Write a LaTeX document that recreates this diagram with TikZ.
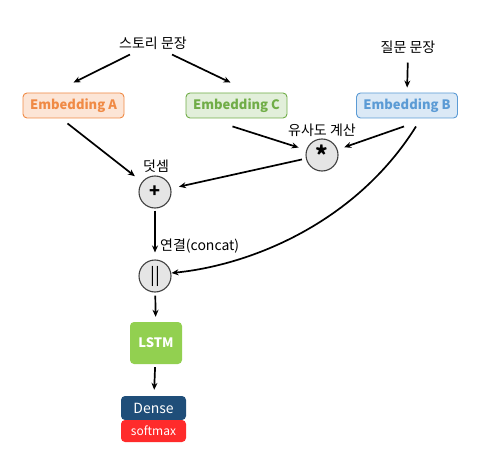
\documentclass[tikz,border=0pt]{standalone}
\usepackage{fontspec}
\setmainfont{Noto Sans CJK KR}
\usetikzlibrary{arrows.meta}
\definecolor{orangeA}{HTML}{F08A45}
\definecolor{greenC}{HTML}{70AD47}
\definecolor{blueB}{HTML}{5B9BD5}
\definecolor{lstmgreen}{HTML}{92D050}
\definecolor{densenavy}{HTML}{1F4E79}
\definecolor{softred}{HTML}{FF2B2B}
\begin{document}
\begin{tikzpicture}[x=1pt, y=-1pt,
  emb/.style={draw, line width=0.9pt, rounded corners=4pt, minimum width=101pt,
    minimum height=25pt, font=\bfseries\fontsize{13}{15}\selectfont},
  op/.style={circle, draw=black!75, fill=black!10, line width=1.1pt,
    minimum size=32pt, inner sep=0pt, font=\fontsize{18}{20}\selectfont},
  lbl/.style={inner sep=1pt, font=\fontsize{14}{16}\selectfont},
  arr/.style={-{Stealth[length=7pt,width=6pt]}, line width=1.7pt},
  blk/.style={text=white, rounded corners=4pt, minimum width=65pt, inner sep=0pt}]
  \useasboundingbox (0,0) rectangle (478,457);
  % inputs
  \node[lbl] (story) at (153,43) {스토리 문장};
  \node[lbl] (question) at (408,47) {질문 문장};
  % embeddings
  \node[emb, draw=orangeA, fill=orangeA!22, text=orangeA] (embA) at (73.5,105.5) {Embedding A};
  \node[emb, draw=greenC, fill=greenC!20, text=greenC] (embC) at (236.5,105.5) {Embedding C};
  \node[emb, draw=blueB, fill=blueB!22, text=blueB] (embB) at (407,105.5) {Embedding B};
  % operations
  \node[op] (mul) at (322,155) {\raisebox{-5pt}{\fontsize{24}{24}\selectfont\textbf{*}}};
  \node[lbl] (mullbl) at (322,130) {유사도 계산};
  \node[op] (add) at (155,192) {\textbf{+}};
  \node[lbl] (addlbl) at (156,166) {덧셈};
  \node[op] (cat) at (155,276) {||};
  \node[lbl, anchor=west] (catlbl) at (159,246) {연결(concat)};
  % output layers
  \node[blk, fill=lstmgreen, minimum width=52pt, minimum height=42pt,
    font=\bfseries\fontsize{13}{15}\selectfont] (lstm) at (156,343) {LSTM};
  \node[blk, fill=densenavy, minimum height=24pt,
    font=\fontsize{14}{16}\selectfont] (dense) at (153.5,408) {Dense};
  \node[blk, fill=softred, minimum height=22pt,
    font=\fontsize{12}{14}\selectfont] (softmax) at (153.5,431) {softmax};
  % connectors
  \draw[arr] ([xshift=-23pt,yshift=-4pt]story.south) -- ([yshift=10pt]embA.north);
  \draw[arr] ([xshift=19pt,yshift=-4pt]story.south) -- ([xshift=-6pt,yshift=10pt]embC.north);
  \draw[arr, shorten <=8pt, shorten >=5pt] (question.south) -- (embB.north);
  \draw[arr, shorten >=9pt] ([xshift=-6pt,yshift=-5pt]embA.south) -- (add);
  \draw[arr, shorten >=8pt] ([xshift=-4pt,yshift=-8pt]embC.south) -- (mul);
  \draw[arr, shorten >=7pt] ([xshift=-3pt,yshift=-8pt]embB.south) -- (mul);
  \draw[arr, shorten <=4pt, shorten >=8pt] (mul) -- (add);
  \draw[arr, shorten <=2pt, shorten >=7pt] (add) -- (cat);
  \draw[arr] ([xshift=9pt,yshift=-8pt]embB.south) .. controls +(-60,96) and +(80,-8) .. ([yshift=3pt]cat.east);
  \draw[arr, shorten <=3pt, shorten >=5pt] (cat) -- (lstm);
  \draw[arr, shorten <=3pt, shorten >=6pt] (lstm) -- (dense);
\end{tikzpicture}
\end{document}
